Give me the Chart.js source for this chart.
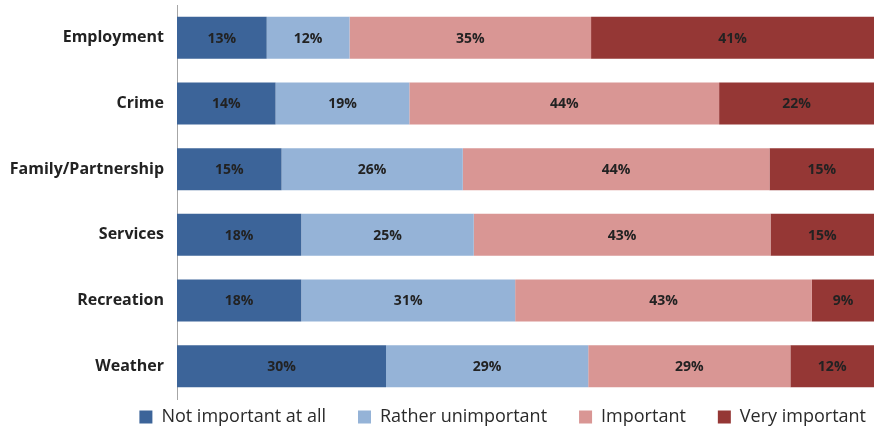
<!DOCTYPE html>
<html>
<head>
<meta charset="utf-8">
<script src="https://cdn.jsdelivr.net/npm/chart.js@4"></script>
<style>
html,body{margin:0;padding:0;background:#fff;}
#wrap{width:874px;height:432px;position:relative;}
</style>
</head>
<body>
<div id="wrap"><canvas id="c" width="874" height="432"></canvas></div>
<script>
const categories = ["Employment", "Crime", "Family/Partnership", "Services", "Recreation", "Weather"];
const seriesNames = ["Not important at all", "Rather unimportant", "Important", "Very important"];
const notImportant = [13, 14, 15, 18, 18, 30];
const ratherUnimportant = [12, 19, 26, 25, 31, 29];
const important = [35, 44, 44, 43, 43, 29];
const veryImportant = [41, 22, 15, 15, 9, 12];
const seriesColors = ["#3C6499", "#95B3D7", "#D99694", "#953735"];

const rawSeries = [notImportant, ratherUnimportant, important, veryImportant];
// bars are shown as 100% stacks: each row's shares scaled to fill the row
const rowTotals = categories.map((_, i) => rawSeries.reduce((s, arr) => s + arr[i], 0));

const datasets = rawSeries.map((arr, k) => ({
  label: seriesNames[k],
  data: arr.map((v, i) => v / rowTotals[i] * 100),
  raw: arr,
  backgroundColor: seriesColors[k],
  borderWidth: 0,
  categoryPercentage: 0.8,
  barPercentage: 0.8
}));

const FONT = '"Open Sans", Lato, sans-serif';
const LEGEND_PAD = 32;
const LEGEND_SIZE = 18;

const labelPlugin = {
  id: 'barLabels',
  afterLayout(chart) {
    // place the legend row just under the plot, right-aligned near the edge
    const lg = chart.legend;
    if (lg) {
      lg.top = chart.chartArea.bottom + 9 - LEGEND_PAD;
      lg.bottom = chart.height;
      lg.height = lg.bottom - lg.top;
      lg.right = chart.width - 8 + LEGEND_PAD;
      lg.width = lg.right - lg.left;
    }
  },
  afterDatasetsDraw(chart) {
    const ctx = chart.ctx;
    ctx.save();
    ctx.font = 'bold 14px ' + FONT;
    ctx.fillStyle = '#222';
    ctx.textAlign = 'center';
    ctx.textBaseline = 'middle';
    chart.data.datasets.forEach((ds, di) => {
      const meta = chart.getDatasetMeta(di);
      meta.data.forEach((el, i) => {
        const cx = (el.x + el.base) / 2;
        ctx.fillText(ds.raw[i] + '%', cx, el.y + 1);
      });
    });
    ctx.restore();
  }
};

new Chart(document.getElementById('c'), {
  type: 'bar',
  data: { labels: categories, datasets: datasets },
  options: {
    indexAxis: 'y',
    responsive: false,
    animation: false,
    layout: { padding: { top: 5, right: 0, left: 0, bottom: 0 } },
    scales: {
      x: {
        stacked: true,
        min: 0, max: 100,
        display: false
      },
      y: {
        stacked: true,
        grid: { display: false, drawTicks: false },
        border: { display: true, color: '#A6A6A6', width: 1 },
        ticks: {
          color: '#222',
          padding: 13,
          font: { family: FONT, size: 16, weight: 'bold' }
        },
        afterFit(scale) {
          scale.width = 177;
          scale.paddingTop = 0;
          scale.paddingBottom = 0;
        }
      }
    },
    plugins: {
      legend: {
        position: 'bottom',
        align: 'end',
        maxHeight: 33,
        labels: {
          boxWidth: 13,
          boxHeight: 13,
          padding: LEGEND_PAD,
          color: '#2a2a2a',
          font: { family: FONT, size: LEGEND_SIZE }
        }
      },
      tooltip: { enabled: false }
    }
  },
  plugins: [labelPlugin]
});
</script>
</body>
</html>
